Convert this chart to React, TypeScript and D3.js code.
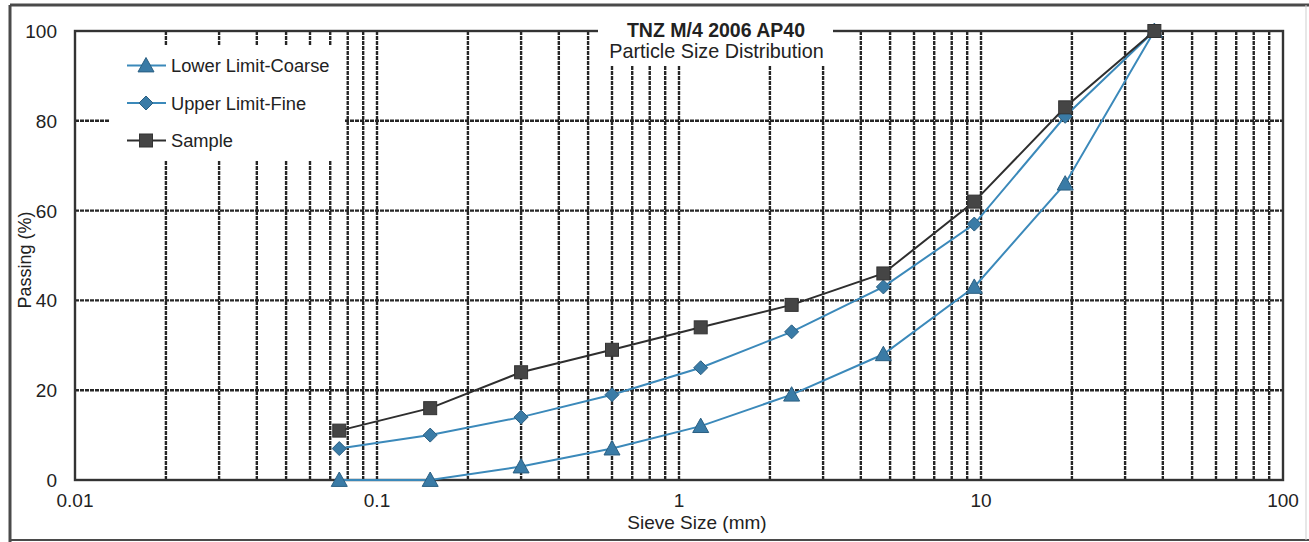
import React from "react";
import * as d3 from "d3";

const sieveSizes = [0.075, 0.15, 0.3, 0.6, 1.18, 2.36, 4.75, 9.5, 19, 37.5];
const lowerLimitCoarse = [0, 0, 3, 7, 12, 19, 28, 43, 66, 100];
const upperLimitFine = [7, 10, 14, 19, 25, 33, 43, 57, 81, 100];
const sample = [11, 16, 24, 29, 34, 39, 46, 62, 83, 100];

const xTicks = [0.01, 0.1, 1, 10, 100];
const xTickLabels = ["0.01", "0.1", "1", "10", "100"];
const yTicks = [0, 20, 40, 60, 80, 100];

const W = 1309;
const H = 542;
const margin = { top: 31, right: 26, bottom: 62, left: 75 };

const blue = "#3b89ba";
const markerBlue = "#3a7ba6";
const dark = "#2e2e2e";
const font = "Arial, 'Liberation Sans', sans-serif";

function Marker({ kind, x, y }: { kind: string; x: number; y: number }) {
  if (kind === "triangle") {
    const s = 8;
    return (
      <path
        d={`M${x},${y - s} L${x + s},${y + s * 0.8} L${x - s},${y + s * 0.8} Z`}
        fill={markerBlue}
        stroke="#2a5f82"
        strokeWidth={1}
      />
    );
  }
  if (kind === "diamond") {
    const s = 7;
    return (
      <path
        d={`M${x},${y - s} L${x + s},${y} L${x},${y + s} L${x - s},${y} Z`}
        fill={markerBlue}
        stroke="#2a5f82"
        strokeWidth={1}
      />
    );
  }
  return <rect x={x - 6.5} y={y - 6.5} width={13} height={13} fill="#454545" stroke="#333" strokeWidth={1} />;
}

export default function App() {
  const x = d3
    .scaleLog()
    .domain([0.01, 100])
    .range([margin.left, W - margin.right]);
  const y = d3
    .scaleLinear()
    .domain([0, 100])
    .range([H - margin.bottom, margin.top]);

  // minor + major vertical gridlines
  const vGrid: number[] = [];
  [0.01, 0.1, 1, 10].forEach((dec) => {
    for (let k = 1; k <= 9; k++) {
      const v = dec * k;
      if (v > 0.01 && v < 100) vGrid.push(v);
    }
  });

  const series = [
    { name: "Lower Limit-Coarse", values: lowerLimitCoarse, color: blue, kind: "triangle" },
    { name: "Upper Limit-Fine", values: upperLimitFine, color: blue, kind: "diamond" },
    { name: "Sample", values: sample, color: dark, kind: "square" },
  ];

  const line = d3
    .line<[number, number]>()
    .x((d) => x(d[0]))
    .y((d) => y(d[1]));

  const x0 = x.range()[0];
  const x1 = x.range()[1];
  const y0 = y.range()[0];
  const y1 = y.range()[1];

  return (
    <svg
      width={W}
      height={H}
      style={{ position: "absolute", left: 0, top: 0, background: "white" }}
      fontFamily={font}
    >
      {/* outer frame */}
      <line x1={10} y1={5} x2={W} y2={5} stroke="#4a4a4a" strokeWidth={3} />
      <line x1={10} y1={5} x2={10} y2={H} stroke="#4a4a4a" strokeWidth={3} />
      <line x1={10} y1={540} x2={W} y2={540} stroke="#4a4a4a" strokeWidth={2} />
      <line x1={1306} y1={5} x2={1306} y2={540} stroke="#cfcfcf" strokeWidth={1} />

      {/* gridlines */}
      {vGrid.map((v) => (
        <line
          key={"v" + v}
          x1={x(v)}
          x2={x(v)}
          y1={y1}
          y2={y0}
          stroke="#262626"
          strokeWidth={2.4}
          strokeDasharray="4,1"
        />
      ))}
      {yTicks
        .filter((t) => t > 0 && t < 100)
        .map((t) => (
          <line
            key={"h" + t}
            x1={x0}
            x2={x1}
            y1={y(t)}
            y2={y(t)}
            stroke="#262626"
            strokeWidth={2.4}
            strokeDasharray="4,1"
          />
        ))}

      {/* plot border */}
      <rect x={x0} y={y1} width={x1 - x0} height={y0 - y1} fill="none" stroke="#333" strokeWidth={2.4} />

      {/* legend & title backgrounds */}
      <rect x={110} y={45} width={235} height={115} fill="white" />
      <rect x={598} y={18} width={235} height={48} fill="white" />

      {/* axis labels */}
      {yTicks.map((t) => (
        <text key={"yt" + t} x={57} y={y(t) + 7} textAnchor="end" fontSize={19} fill="#222">
          {t}
        </text>
      ))}
      {xTicks.map((t, i) => (
        <text key={"xt" + t} x={x(t)} y={507} textAnchor="middle" fontSize={19} fill="#222">
          {xTickLabels[i]}
        </text>
      ))}
      <text x={697} y={529} textAnchor="middle" fontSize={19} fill="#222">
        Sieve Size (mm)
      </text>
      <text
        transform="translate(31,260) rotate(-90)"
        textAnchor="middle"
        fontSize={18}
        fill="#222"
      >
        Passing (%)
      </text>

      {/* title */}
      <text x={716} y={37} textAnchor="middle" fontSize={19.5} fontWeight="bold" fill="#222">
        TNZ M/4 2006 AP40
      </text>
      <text x={716.5} y={58} textAnchor="middle" fontSize={19.8} fill="#222">
        Particle Size Distribution
      </text>

      {/* series */}
      {series.map((s) => {
        const pts = sieveSizes.map((d, i) => [d, s.values[i]] as [number, number]);
        return (
          <g key={s.name}>
            <path d={line(pts) || ""} fill="none" stroke={s.color} strokeWidth={2} />
            {pts.map((p, i) => (
              <Marker key={i} kind={s.kind} x={x(p[0])} y={y(p[1])} />
            ))}
          </g>
        );
      })}

      {/* legend */}
      {series.map((s, i) => {
        const ly = 65.5 + i * 37.5;
        return (
          <g key={"lg" + s.name}>
            <line x1={127} x2={166} y1={ly} y2={ly} stroke={s.color} strokeWidth={2} />
            <Marker kind={s.kind} x={146} y={ly} />
            <text x={171} y={ly + 6.5} fontSize={18.3} fill="#222">
              {s.name}
            </text>
          </g>
        );
      })}
    </svg>
  );
}
